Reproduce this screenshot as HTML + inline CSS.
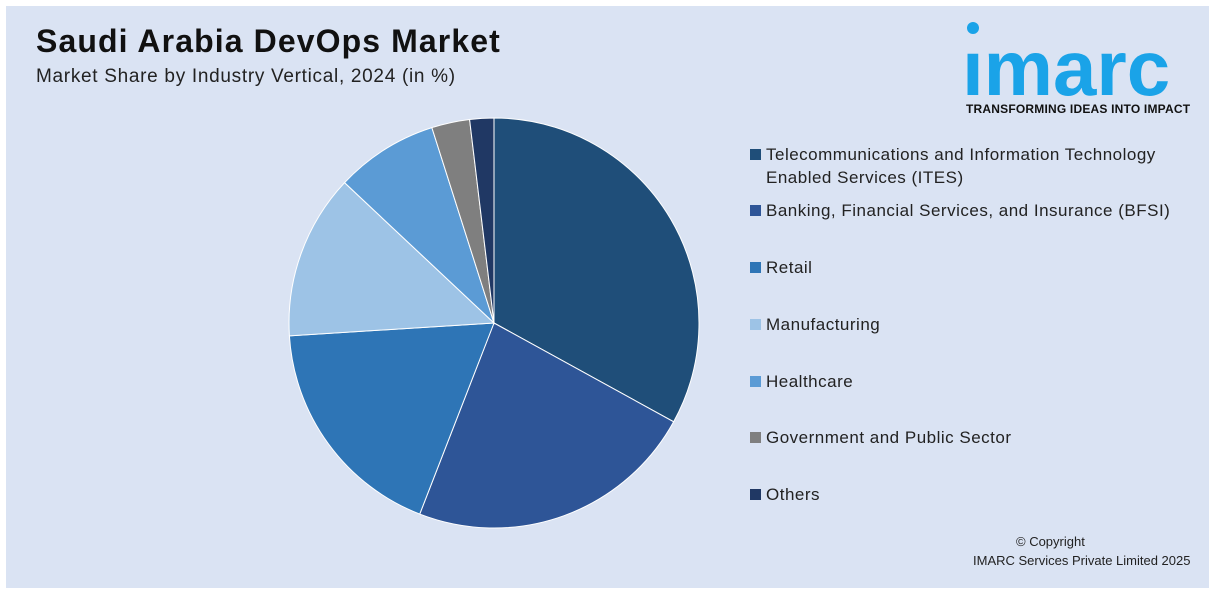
<!DOCTYPE html>
<html><head><meta charset="utf-8"><style>
body{margin:0;width:1215px;height:594px;background:#fff;font-family:"Liberation Sans",sans-serif;overflow:hidden}
#card{position:absolute;left:6px;top:6px;width:1203px;height:582px;background:#dae3f3}
.t{position:absolute;color:#111}
.leg{position:absolute;left:750px;font-size:17px;color:#222;line-height:23px;letter-spacing:0.5px}
.sw{position:absolute;left:0;top:6px;width:11px;height:11px}
.leg span.l{margin-left:16px;display:block}
</style></head><body>
<div id="card"></div>
<div class="t" style="left:36px;top:23px;font-size:32px;font-weight:bold;letter-spacing:1.1px">Saudi Arabia DevOps Market</div>
<div class="t" style="left:36px;top:66px;font-size:19px;color:#222;letter-spacing:0.7px">Market Share by Industry Vertical, 2024 (in %)</div>
<div style="position:absolute;left:962px;top:20px;width:235px;height:100px">
<div style="position:absolute;left:5px;top:2px;width:12px;height:12px;border-radius:50%;background:#1aa3e8"></div>
<div style="position:absolute;left:0;top:8px;font-size:78px;font-weight:bold;color:#1aa3e8;letter-spacing:0px;line-height:80px">ımarc</div>
<div style="position:absolute;left:4px;top:82px;font-size:12px;font-weight:bold;color:#111;letter-spacing:0.2px">TRANSFORMING IDEAS INTO IMPACT</div>
</div>
<svg id="pie" width="1215" height="594" style="position:absolute;left:0;top:0"></svg>
<div id="legend"></div>
<div class="t" style="left:1016px;top:534px;font-size:13px;color:#222">© Copyright</div>
<div class="t" style="left:973px;top:553px;font-size:13px;color:#222">IMARC Services Private Limited 2025</div>
<script>
const categories=["Telecommunications and Information Technology Enabled Services (ITES)","Banking, Financial Services, and Insurance (BFSI)","Retail","Manufacturing","Healthcare","Government and Public Sector","Others"];
const values=[33,22.9,18.1,13,8.1,3,1.9];
const colors=["#1f4e79","#2e5597","#2e75b6","#9dc3e6","#5b9bd5","#7f7f7f","#203864"];
const svg=document.getElementById('pie');
const cx=494,cy=323,r=205;
const total=values.reduce((a,b)=>a+b,0);
let a0=0;
values.forEach((v,i)=>{
  const a1=a0+v/total*2*Math.PI;
  const x0=cx+r*Math.sin(a0),y0=cy-r*Math.cos(a0),x1=cx+r*Math.sin(a1),y1=cy-r*Math.cos(a1);
  const p=document.createElementNS('http://www.w3.org/2000/svg','path');
  p.setAttribute('d',`M${cx},${cy}L${x0},${y0}A${r},${r} 0 ${a1-a0>Math.PI?1:0} 1 ${x1},${y1}Z`);
  p.setAttribute('fill',colors[i]);
  p.setAttribute('stroke','#fff');p.setAttribute('stroke-width','1');
  
  
  svg.appendChild(p);
  a0=a1;
});
const tops=[143,199,256,313,370,426,483];
const lg=document.getElementById('legend');
categories.forEach((c,i)=>{
  const d=document.createElement('div');
  d.className='leg';d.style.top=tops[i]+'px';d.style.width=440+'px';
  
  
  d.innerHTML=`<div class="sw" style="background:${colors[i]}"></div><span class="l">${c}</span>`;
  lg.appendChild(d);
});
</script>
</body></html>
